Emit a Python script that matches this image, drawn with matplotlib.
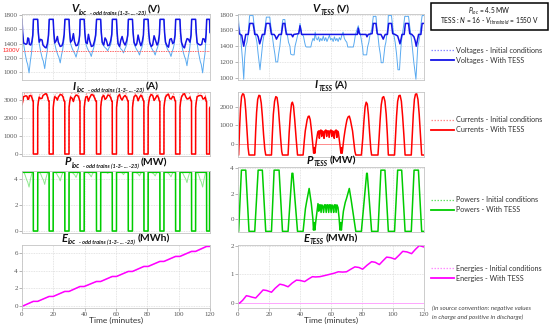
import matplotlib
matplotlib.use('Agg')
import matplotlib.pyplot as plt
from matplotlib.lines import Line2D
from matplotlib.patches import Rectangle

plt.rcParams['font.family'] = 'Liberation Serif'
plt.rcParams['mathtext.fontset'] = 'custom'
plt.rcParams['mathtext.rm'] = 'Lato'
plt.rcParams['mathtext.it'] = 'Lato:italic'
plt.rcParams['mathtext.bf'] = 'Lato:bold'

# ---------------- data (time in minutes) ----------------
vloc_tess = [(0,1740),(0.4,1560),(1.0,1410),(2.5,1390),(3.2,1400),(3.7,1480),(4.3,1470),(4.7,1390),(5.6,1380),(6.3,1430),(6.9,1520),(7.3,1740),
 (10.0,1740),(10.4,1560),(11.0,1420),(11.8,1460),(12.8,1450),(13.4,1380),(14.6,1350),(15.4,1340),(16.2,1400),(16.9,1520),(17.4,1740),
 (19.9,1740),(20.3,1560),(20.9,1410),(21.8,1440),(22.6,1500),(23.2,1420),(24.4,1360),(25.5,1370),(26.2,1420),(26.9,1530),(27.4,1740),
 (30.0,1740),(30.4,1560),(31.0,1420),(32.0,1450),(32.8,1540),(33.5,1430),(34.5,1370),(35.5,1380),(36.3,1440),(36.8,1520),(37.1,1740),
 (39.7,1740),(40.1,1560),(40.7,1420),(41.6,1400),(42.4,1530),(43.2,1440),(44.3,1360),(45.4,1370),(46.2,1430),(47.0,1520),(47.6,1740),
 (50.2,1740),(50.6,1560),(51.2,1420),(52.2,1380),(53.0,1480),(53.8,1450),(54.8,1370),(55.8,1380),(56.6,1440),(57.3,1530),(57.7,1740),
 (60.3,1740),(60.7,1560),(61.3,1400),(62.3,1360),(63.1,1450),(63.9,1500),(64.8,1420),(65.8,1380),(66.8,1440),(67.5,1520),(67.9,1740),
 (70.5,1740),(70.9,1560),(71.5,1420),(72.5,1370),(73.3,1400),(74.1,1520),(75.0,1430),(75.9,1370),(76.8,1430),(77.5,1520),(77.9,1740),
 (80.5,1740),(80.9,1560),(81.5,1420),(82.5,1360),(83.4,1380),(84.3,1510),(85.2,1450),(86.2,1380),(87.0,1420),(87.7,1530),(88.1,1740),
 (90.6,1740),(91.0,1560),(91.6,1420),(92.6,1370),(93.5,1350),(94.4,1460),(95.3,1470),(96.2,1400),(97.0,1420),(97.7,1520),(98.1,1740),
 (100.8,1740),(101.2,1560),(101.8,1420),(102.8,1360),(103.7,1340),(104.6,1420),(105.4,1470),(106.3,1460),(107.2,1420),(107.9,1520),(108.3,1740),
 (110.8,1740),(111.2,1560),(111.8,1410),(112.8,1390),(113.8,1380),(114.7,1390),(115.5,1470),(116.4,1460),(117.0,1420),(117.5,1530),(117.9,1740),
 (119.7,1740),(120,1560)]

vloc_init = [(0,1740),(0.4,1540),(1.0,1400),(2.0,1260),(3.0,1150),(3.6,1110),(4.5,990),(5.3,1150),(6.0,1260),(6.6,1400),(6.9,1500),(7.3,1740),
 (10.0,1740),(10.4,1540),(11.0,1400),(12.0,1280),(13.0,1190),(13.6,1155),(14.5,1050),(15.3,1190),(16.0,1280),(16.6,1400),(17.0,1500),(17.4,1740),
 (19.9,1740),(20.3,1540),(20.9,1400),(21.9,1305),(22.9,1240),(23.5,1210),(24.4,1130),(25.2,1240),(25.9,1305),(26.5,1400),(27.0,1500),(27.4,1740),
 (30.0,1740),(30.4,1540),(31.0,1400),(32.0,1335),(33.0,1285),(33.6,1265),(34.5,1210),(35.3,1285),(36.0,1335),(36.5,1400),(36.8,1500),(37.1,1740),
 (39.7,1740),(40.1,1540),(40.7,1400),(41.7,1335),(42.7,1290),(43.3,1275),(44.2,1220),(45.0,1290),(45.7,1335),(46.4,1400),(47.1,1500),(47.6,1740),
 (50.2,1740),(50.6,1540),(51.2,1400),(52.2,1365),(53.2,1340),(53.8,1330),(54.7,1300),(55.5,1340),(56.2,1365),(56.8,1400),(57.3,1500),(57.7,1740),
 (60.3,1740),(60.7,1540),(61.3,1400),(62.3,1355),(63.3,1320),(63.9,1310),(64.8,1270),(65.6,1320),(66.3,1355),(67.0,1400),(67.5,1500),(67.9,1740),
 (70.5,1740),(70.9,1540),(71.5,1400),(72.5,1345),(73.5,1305),(74.1,1290),(75.0,1240),(75.8,1305),(76.5,1345),(77.1,1400),(77.5,1500),(77.9,1740),
 (80.5,1740),(80.9,1540),(81.5,1400),(82.5,1345),(83.5,1305),(84.1,1290),(85.0,1240),(85.8,1305),(86.5,1345),(87.2,1400),(87.7,1500),(88.1,1740),
 (90.6,1740),(91.0,1540),(91.6,1400),(92.6,1335),(93.6,1290),(94.2,1275),(95.1,1220),(95.9,1290),(96.6,1335),(97.2,1400),(97.7,1500),(98.1,1740),
 (100.8,1740),(101.2,1540),(101.8,1400),(102.8,1290),(103.8,1215),(104.4,1185),(105.3,1090),(106.1,1215),(106.8,1290),(107.4,1400),(107.9,1500),(108.3,1740),
 (110.8,1740),(111.2,1540),(111.8,1400),(112.8,1260),(113.8,1150),(114.4,1110),(115.3,990),(116.1,1150),(116.8,1260),(117.2,1400),(117.5,1500),(117.9,1740),
 (119.7,1740),(120,1540)]

iloc_tess = [(0,2750),(0.4,2890),(1.0,3190),(2.5,3240),(3.2,3210),(3.7,3040),(4.3,3060),(4.7,3240),(5.6,3260),(6.3,3150),(6.9,2960),(7.2,2950),(7.25,0),
 (10.0,0),(10.05,2590),(10.4,2880),(11.0,3170),(11.8,3080),(12.8,3100),(13.4,3260),(14.6,3330),(15.4,3360),(16.2,3210),(16.9,2960),(17.3,2950),(17.35,0),
 (19.9,0),(19.95,2590),(20.3,2880),(20.9,3190),(21.8,3130),(22.6,3000),(23.2,3170),(24.4,3310),(25.5,3280),(26.2,3170),(26.9,2940),(27.3,2930),(27.35,0),
 (30.0,0),(30.05,2590),(30.4,2880),(31.0,3170),(32.0,3100),(32.8,2920),(33.5,3150),(34.5,3280),(35.5,3260),(36.3,3130),(36.8,2960),(37.0,2950),(37.05,0),
 (39.7,0),(39.75,2590),(40.1,2880),(40.7,3170),(41.6,3210),(42.4,2940),(43.2,3130),(44.3,3310),(45.4,3280),(46.2,3150),(47.0,2960),(47.5,2950),(47.55,0),
 (50.2,0),(50.25,2590),(50.6,2880),(51.2,3170),(52.2,3260),(53.0,3040),(53.8,3100),(54.8,3280),(55.8,3260),(56.6,3130),(57.3,2940),(57.6,2930),(57.65,0),
 (60.3,0),(60.35,2590),(60.7,2880),(61.3,3210),(62.3,3310),(63.1,3100),(63.9,3000),(64.8,3170),(65.8,3260),(66.8,3130),(67.5,2960),(67.8,2950),(67.85,0),
 (70.5,0),(70.55,2590),(70.9,2880),(71.5,3170),(72.5,3280),(73.3,3210),(74.1,2960),(75.0,3150),(75.9,3280),(76.8,3150),(77.5,2960),(77.8,2950),(77.85,0),
 (80.5,0),(80.55,2590),(80.9,2880),(81.5,3170),(82.5,3310),(83.4,3260),(84.3,2980),(85.2,3100),(86.2,3260),(87.0,3170),(87.7,2940),(88.0,2930),(88.05,0),
 (90.6,0),(90.65,2590),(91.0,2880),(91.6,3170),(92.6,3280),(93.5,3330),(94.4,3080),(95.3,3060),(96.2,3210),(97.0,3170),(97.7,2960),(98.0,2950),(98.05,0),
 (100.8,0),(100.85,2590),(101.2,2880),(101.8,3170),(102.8,3310),(103.7,3360),(104.6,3170),(105.4,3060),(106.3,3080),(107.2,3170),(107.9,2960),(108.2,2950),(108.25,0),
 (110.8,0),(110.85,2590),(111.2,2880),(111.8,3190),(112.8,3240),(113.8,3260),(114.7,3240),(115.5,3060),(116.4,3080),(117.0,3170),(117.5,2940),(117.8,2930),(117.85,0),
 (119.7,0),(119.75,2550),(120,2600)]

iloc_init = [(0,2750),(0.4,2920),(1.0,3210),(1.8,3400),(6.0,3400),(6.6,3214),(6.9,3000),(7.2,2950),(7.25,0),
 (10.0,0),(10.05,2590),(10.4,2920),(11.0,3210),(11.8,3400),(16.0,3400),(16.6,3214),(17.0,3000),(17.3,2950),(17.35,0),
 (19.9,0),(19.95,2590),(20.3,2920),(20.9,3210),(21.7,3400),(25.9,3400),(26.5,3214),(27.0,3000),(27.3,2950),(27.35,0),
 (30.0,0),(30.05,2590),(30.4,2920),(31.0,3210),(31.8,3400),(36.0,3400),(36.5,3214),(36.7,3000),(37.0,2950),(37.05,0),
 (39.7,0),(39.75,2590),(40.1,2920),(40.7,3210),(41.5,3400),(45.7,3400),(46.4,3214),(47.2,3000),(47.5,2950),(47.55,0),
 (50.2,0),(50.25,2590),(50.6,2920),(51.2,3210),(52.0,3400),(56.2,3400),(56.8,3214),(57.3,3000),(57.6,2950),(57.65,0),
 (60.3,0),(60.35,2590),(60.7,2920),(61.3,3210),(62.1,3400),(66.3,3400),(67.0,3214),(67.5,3000),(67.8,2950),(67.85,0),
 (70.5,0),(70.55,2590),(70.9,2920),(71.5,3210),(72.3,3400),(76.5,3400),(77.1,3214),(77.5,3000),(77.8,2950),(77.85,0),
 (80.5,0),(80.55,2590),(80.9,2920),(81.5,3210),(82.3,3400),(86.5,3400),(87.2,3214),(87.7,3000),(88.0,2950),(88.05,0),
 (90.6,0),(90.65,2590),(91.0,2920),(91.6,3210),(92.4,3400),(96.6,3400),(97.2,3214),(97.7,3000),(98.0,2950),(98.05,0),
 (100.8,0),(100.85,2590),(101.2,2920),(101.8,3210),(102.6,3400),(106.8,3400),(107.4,3214),(107.9,3000),(108.2,2950),(108.25,0),
 (110.8,0),(110.85,2590),(111.2,2920),(111.8,3210),(112.6,3400),(116.8,3400),(117.2,3214),(117.5,3000),(117.8,2950),(117.85,0),
 (119.7,0),(119.75,2550),(120,2600)]

ploc_tess = [(0,4.5),(7.2,4.5),(7.25,0),(10.0,0),(10.05,4.5),(17.3,4.5),(17.35,0),(19.9,0),(19.95,4.5),(27.3,4.5),(27.35,0),
 (30.0,0),(30.05,4.5),(37.0,4.5),(37.05,0),(39.7,0),(39.75,4.5),(47.5,4.5),(47.55,0),(50.2,0),(50.25,4.5),(57.6,4.5),(57.65,0),
 (60.3,0),(60.35,4.5),(67.8,4.5),(67.85,0),(70.5,0),(70.55,4.5),(77.8,4.5),(77.85,0),(80.5,0),(80.55,4.5),(88.0,4.5),(88.05,0),
 (90.6,0),(90.65,4.5),(98.0,4.5),(98.05,0),(100.8,0),(100.85,4.5),(108.2,4.5),(108.25,0),(110.8,0),(110.85,4.5),(117.8,4.5),(117.85,0),
 (119.7,0),(119.75,4.5),(120,4.5)]

ploc_init = [(0,4.5),(1.2,4.5),(2.0,4.28),(3.0,3.91),(3.6,3.77),(4.5,3.37),(5.3,3.91),(6.0,4.28),(6.6,4.5),(7.2,4.5),(7.25,0),
 (10.0,0),(10.05,4.5),(11.2,4.5),(12.0,4.35),(13.0,4.05),(13.6,3.93),(14.5,3.57),(15.3,4.05),(16.0,4.35),(16.6,4.5),(17.3,4.5),(17.35,0),
 (19.9,0),(19.95,4.5),(21.1,4.5),(21.9,4.44),(22.9,4.21),(23.5,4.12),(24.4,3.84),(25.2,4.21),(25.9,4.44),(26.5,4.5),(27.3,4.5),(27.35,0),
 (30.0,0),(30.05,4.5),(32.0,4.5),(33.0,4.37),(33.6,4.31),(34.5,4.11),(35.3,4.37),(36.0,4.5),(37.0,4.5),(37.05,0),
 (39.7,0),(39.75,4.5),(41.7,4.5),(42.7,4.39),(43.3,4.33),(44.2,4.15),(45.0,4.39),(45.7,4.5),(47.5,4.5),(47.55,0),
 (50.2,0),(50.25,4.5),(53.8,4.5),(54.7,4.42),(55.5,4.5),(57.6,4.5),(57.65,0),
 (60.3,0),(60.35,4.5),(62.3,4.5),(63.3,4.49),(63.9,4.45),(64.8,4.32),(65.6,4.49),(66.3,4.5),(67.8,4.5),(67.85,0),
 (70.5,0),(70.55,4.5),(72.5,4.5),(73.5,4.43),(74.1,4.38),(75.0,4.22),(75.8,4.43),(76.5,4.5),(77.8,4.5),(77.85,0),
 (80.5,0),(80.55,4.5),(82.5,4.5),(83.5,4.43),(84.1,4.38),(85.0,4.22),(85.8,4.43),(86.5,4.5),(88.0,4.5),(88.05,0),
 (90.6,0),(90.65,4.5),(92.6,4.5),(93.6,4.39),(94.2,4.33),(95.1,4.15),(95.9,4.39),(96.6,4.5),(98.0,4.5),(98.05,0),
 (100.8,0),(100.85,4.5),(102.0,4.5),(102.8,4.39),(103.8,4.13),(104.4,4.02),(105.3,3.71),(106.1,4.13),(106.8,4.39),(107.4,4.5),(108.2,4.5),(108.25,0),
 (110.8,0),(110.85,4.5),(112.0,4.5),(112.8,4.28),(113.8,3.91),(114.4,3.77),(115.3,3.37),(116.1,3.91),(116.8,4.28),(117.2,4.5),(117.8,4.5),(117.85,0),
 (119.7,0),(119.75,4.5),(120,4.5)]

eloc_tess = [(0,0),(7.2,0.56),(10.0,0.56),(17.3,1.11),(19.9,1.11),(27.3,1.67),(30.0,1.67),(37.0,2.22),(39.7,2.22),(47.5,2.78),(50.2,2.78),
 (57.6,3.34),(60.3,3.34),(67.8,3.9),(70.5,3.9),(77.8,4.46),(80.5,4.46),(88.0,5.02),(90.6,5.02),(98.0,5.58),(100.8,5.58),
 (108.2,6.14),(110.8,6.14),(117.8,6.7),(119.7,6.7),(120,6.72)]
eloc_init = [(0,0),(7.2,0.55),(10.0,0.55),(17.3,1.1),(19.9,1.1),(27.3,1.65),(30.0,1.65),(37.0,2.2),(39.7,2.2),(47.5,2.76),(50.2,2.76),
 (57.6,3.32),(60.3,3.32),(67.8,3.88),(70.5,3.88),(77.8,4.43),(80.5,4.43),(88.0,4.99),(90.6,4.99),(98.0,5.54),(100.8,5.54),
 (108.2,6.09),(110.8,6.09),(117.8,6.64),(119.7,6.64),(120,6.66)]

vtess_tess = [(0,1680),(0.8,1560),(1.5,1550),(2.4,1540),(3.0,1470),(3.7,1400),(4.4,1480),(5.0,1550),(6.6,1550),(7.6,1690),(9.7,1690),(10.5,1600),(10.8,1550),
 (12.2,1550),(13.0,1520),(14.0,1430),(15.0,1500),(15.7,1550),(17.2,1550),(18.2,1690),(20.5,1690),(21.3,1580),(21.6,1550),
 (23.3,1550),(24.0,1530),(24.8,1490),(25.6,1520),(26.5,1550),(28.0,1550),(29.0,1690),(30.2,1690),(30.8,1600),(31.2,1550),
 (34.5,1550),(35.3,1520),(36.0,1550),(39.2,1560),(40.0,1660),(40.6,1600),(41.0,1550),(77.0,1550),(77.6,1630),(78.3,1560),(78.8,1550),
 (82.6,1550),(83.2,1520),(84.0,1550),(86.5,1560),(87.3,1690),(89.0,1690),(89.8,1560),(90.5,1550),(92.2,1550),(93.0,1520),(93.7,1490),
 (94.5,1530),(95.0,1550),(96.4,1550),(97.2,1690),(99.0,1690),(99.8,1560),(101.3,1550),(103.0,1530),(103.8,1480),(104.5,1430),
 (105.3,1500),(105.8,1550),(107.2,1550),(108.0,1690),(110.0,1690),(110.8,1560),(112.2,1550),(113.5,1520),(114.3,1470),(115.0,1400),
 (115.8,1480),(116.5,1550),(118.0,1550),(118.8,1690),(120,1690)]

vtess_init = [(0,1800),(0.8,1640),(1.5,1550),(2.2,1400),(3.0,1200),(3.7,980),(4.3,1250),(5.0,1400),(5.8,1450),(6.5,1550),(7.5,1790),(9.7,1790),
 (10.5,1650),(11.2,1550),(12.2,1450),(13.0,1300),(14.2,1100),(15.2,1300),(16.0,1450),(16.8,1550),(17.8,1700),(18.3,1770),(20.5,1770),
 (21.3,1640),(22.0,1550),(23.0,1400),(23.8,1300),(24.4,1200),(25.6,1200),(26.2,1300),(27.0,1400),(27.8,1550),(28.6,1700),(29.0,1740),(30.2,1740),
 (31.0,1600),(31.8,1550),(32.6,1450),(33.5,1400),(34.0,1300),(35.0,1290),(36.2,1290),(36.8,1400),(37.8,1480),(38.6,1550),(39.5,1600),(40.0,1690),
 (40.6,1620),(41.2,1550),(42.2,1530),(43.0,1450),(43.6,1400),(44.2,1390),(47.0,1390),(47.6,1450),(48.4,1500),(49.2,1470),(49.8,1580),(50.4,1500),
 (51.2,1480),(52.0,1520),(52.6,1460),(53.4,1500),(54.2,1470),(55.0,1530),(55.8,1470),(56.6,1510),(57.4,1460),(58.2,1500),(59.0,1540),(59.8,1480),
 (60.6,1500),(61.4,1460),(62.2,1520),(63.0,1470),(63.8,1500),(64.6,1460),(65.4,1510),(66.2,1480),(67.0,1540),(67.8,1580),(68.6,1500),(69.4,1470),
 (70.2,1450),(70.8,1390),(74.4,1390),(75.0,1450),(75.8,1550),(76.6,1600),(77.6,1660),(78.2,1600),(79.0,1550),(79.8,1450),(80.4,1380),(80.8,1290),
 (83.0,1290),(83.6,1390),(84.4,1450),(85.2,1550),(86.2,1600),(86.8,1700),(87.3,1780),(89.0,1780),(89.6,1640),(90.2,1550),(91.0,1400),(91.8,1300),
 (92.4,1190),(93.6,1190),(94.2,1300),(94.8,1400),(95.4,1450),(96.0,1550),(96.6,1640),(97.0,1790),(99.0,1790),(99.8,1650),(100.5,1550),(101.4,1450),
 (102.3,1300),(103.2,1100),(104.2,1100),(104.8,1300),(105.4,1450),(106.0,1550),(106.8,1650),(107.6,1780),(110.0,1780),(110.8,1650),(111.5,1550),
 (112.4,1400),(113.4,1200),(114.8,980),(115.4,1200),(116.0,1400),(116.6,1450),(117.4,1550),(118.2,1700),(118.8,1790),(120,1790)]

itess_tess = [(0,-600),(0.4,-600),(1.0,800),(1.6,1900),(2.3,2550),(3.0,2700),(3.7,2680),(4.4,2400),(5.0,1800),(5.8,700),(6.5,-200),(7.1,-600),
 (10.8,-600),(11.4,700),(12.0,1700),(12.7,2400),(13.5,2620),(14.2,2600),(15.0,2200),(15.7,1500),(16.5,500),(17.3,-300),(17.9,-600),
 (21.6,-600),(22.2,600),(22.8,1600),(23.6,2300),(24.4,2550),(25.2,2500),(26.0,2000),(26.7,1200),(27.5,300),(28.2,-400),(28.7,-600),
 (32.3,-600),(33.0,600),(33.8,1600),(34.5,2150),(35.1,2250),(35.8,2050),(36.6,1300),(37.5,300),(38.4,-600),
 (42.0,-600),(42.8,200),(43.4,700),(44.0,1000),(44.6,1300),(45.3,1480),(45.9,1500),(46.6,1300),(47.3,800),(47.9,300),(48.5,-200),(48.8,-500),
 (49.3,-200),(49.6,-500),(50.0,-200),(50.8,300),(51.5,650),(52.1,700),(52.5,300),(52.9,700),(53.5,750),(54.0,400),(54.4,700),(55.0,650),
 (55.5,300),(56.0,700),(56.7,750),(57.2,400),(57.6,700),(58.3,700),(58.8,350),(59.3,700),(60.0,750),(60.5,400),(61.0,700),(61.6,650),
 (62.1,300),(62.6,700),(63.3,750),(63.8,350),(64.2,700),(64.8,600),(65.4,200),(66.0,-200),(66.4,-500),(66.8,-200),(67.2,-500),(67.6,-200),
 (68.3,300),(69.0,700),(69.6,1000),(70.3,1300),(71.0,1450),(71.8,1500),(72.5,1300),(73.2,1000),(73.9,700),(74.6,200),(75.4,-400),(76.0,-600),
 (79.6,-600),(80.5,300),(81.3,1300),(82.0,2000),(82.7,2250),(83.4,2150),(84.1,1600),(84.9,600),(85.7,-300),(86.2,-600),
 (90.3,-600),(91.0,300),(91.7,1300),(92.4,2100),(93.2,2500),(94.0,2550),(94.8,2300),(95.6,1600),(96.3,600),(97.0,-600),
 (101.0,-600),(101.6,400),(102.3,1500),(103.0,2300),(103.8,2600),(104.6,2620),(105.4,2300),(106.2,1500),(107.0,500),(107.8,-600),
 (111.8,-600),(112.4,400),(113.1,1600),(113.8,2400),(114.5,2680),(115.3,2700),(116.1,2400),(116.9,1600),(117.7,500),(118.5,-600),(120,-600)]

ptess_tess = [(0,-1.0),(0.4,-1.0),(2.2,3.85),(5.0,3.85),(7.1,-1.0),(10.8,-1.0),(13.0,3.85),(15.7,3.85),(17.9,-1.0),(21.6,-1.0),(23.3,3.85),
 (26.5,3.85),(28.7,-1.0),(32.3,-1.0),(34.8,3.6),(35.4,3.6),(38.4,-1.0),(42.0,-1.0),(43.5,0.8),(44.2,1.3),(45.9,2.4),(47.3,1.2),(48.3,0.0),
 (48.7,-0.9),(49.2,-0.3),(49.6,-0.9),(50.1,-0.3),(51.0,0.6),(51.6,1.2),(52.1,0.6),(52.6,1.1),(53.1,1.1),(53.6,0.5),(54.1,1.1),(54.7,1.0),
 (55.2,0.5),(55.8,1.1),(56.4,1.1),(56.9,0.5),(57.4,1.1),(58.0,1.1),(58.5,0.5),(59.0,1.1),(59.6,1.1),(60.1,0.5),(60.6,1.1),(61.2,1.0),
 (61.7,0.5),(62.2,1.1),(62.8,1.1),(63.3,0.5),(63.8,1.1),(64.5,0.9),(65.2,0.1),(65.8,-0.9),(66.3,-0.3),(66.7,-0.9),(67.2,-0.3),(68.0,0.6),
 (69.2,1.3),(70.0,1.6),(71.8,2.4),(73.0,1.5),(74.2,0.5),(75.5,-0.6),(76.0,-1.0),(79.6,-1.0),(83.0,3.6),(83.4,3.6),(86.2,-1.0),(90.3,-1.0),
 (92.2,3.85),(94.8,3.85),(97.0,-1.0),(101.0,-1.0),(103.0,3.85),(105.6,3.85),(107.8,-1.0),(111.8,-1.0),(113.6,3.85),(116.4,3.85),(118.5,-1.0),(120,-1.0)]

etess_tess = [(0,0),(1.0,0.0),(3.0,0.1),(5.4,0.26),(7.1,0.24),(9.0,0.21),(11.4,0.18),(13.5,0.3),(16.2,0.46),(18.5,0.44),(21.6,0.38),(24.0,0.52),
 (27.0,0.66),(29.5,0.63),(32.3,0.57),(35.0,0.7),(37.7,0.8),(40.0,0.79),(43.0,0.75),(45.5,0.84),(48.0,0.92),(50.0,0.91),(52.8,0.92),(56.0,0.96),
 (59.0,1.0),(62.0,1.04),(64.7,1.09),(67.5,1.08),(70.0,1.09),(72.8,1.18),(75.4,1.26),(78.0,1.24),(80.4,1.18),(83.3,1.32),(86.2,1.44),(88.5,1.42),
 (91.2,1.34),(93.5,1.47),(95.9,1.6),(98.5,1.58),(101.3,1.53),(103.8,1.66),(106.3,1.8),(109.0,1.78),(112.0,1.72),(114.5,1.87),(117.0,2.0),(120,1.95)]

tess_init_zero = [(0, 0), (120, 0)]

legend_groups = ["Voltages", "Currents", "Powers", "Energies"]

# ---------------- colours ----------------
C = {'V': ('#1414e6', '#5aaaf0', '#8c8cff'),
     'I': ('#ff0000', '#ff8c8c', '#ff8c8c'),
     'P': ('#00cc00', '#8de88d', '#66e066'),
     'E': ('#ff00ff', '#ffa6ff', '#ff8cff')}

W, H = 550, 330
fig = plt.figure(figsize=(5.5, 3.3), dpi=100)

def rect(x0, y0, x1, y1):
    return [x0 / W, 1 - y1 / H, (x1 - x0) / W, (y1 - y0) / H]

def xy(pairs):
    return [p[0] for p in pairs], [p[1] for p in pairs]

def style(ax, ylim, yticks, bottom=False):
    ax.set_xlim(0, 120)
    ax.set_ylim(*ylim)
    ax.set_xticks(range(0, 121, 20))
    ax.set_yticks(yticks)
    ax.grid(True, color='#dcdcdc', ls=(0, (1, 1)), lw=0.6)
    ax.set_axisbelow(True)
    for s in ax.spines.values():
        s.set_color('#c4c4c4'); s.set_linewidth(0.6)
    ax.tick_params(length=2, width=0.5, color='#999999', labelsize=5, labelcolor='#555555', pad=1)
    if not bottom:
        ax.tick_params(axis='x', labelbottom=False, length=0)

LX0, LX1 = 22, 210
RX0, RX1 = 238, 424
rows_l = [(14, 80), (92, 156), (171, 233), (245, 308)]
rows_r = [(14, 80), (92, 156.5), (167, 232), (245, 307.5)]

axes = {}
for name, (x0, x1), rows in [('L', (LX0, LX1), rows_l), ('R', (RX0, RX1), rows_r)]:
    for i, (y0, y1) in enumerate(rows):
        axes[(name, i)] = fig.add_axes(rect(x0, y0, x1, y1))

lw_t, lw_i = 1.1, 0.7
# V loc
ax = axes[('L', 0)]
ax.plot(*xy(vloc_init), color=C['V'][1], lw=lw_i)
ax.plot(*xy(vloc_tess), color=C['V'][0], lw=lw_t)
ax.axhline(1300, color='#ff6a6a', lw=0.7, ls=(0, (1.5, 1)))
style(ax, (890, 1815), [1000, 1200, 1400, 1600, 1800])
# V tess
ax = axes[('R', 0)]
ax.plot(*xy(vtess_init), color=C['V'][1], lw=lw_i)
ax.plot(*xy(vtess_tess), color=C['V'][0], lw=lw_t)
style(ax, (970, 1810), [1000, 1200, 1400, 1600, 1800])
# I loc
ax = axes[('L', 1)]
ax.plot(*xy(iloc_init), color=C['I'][1], lw=lw_i, ls=(0, (2, 1.5)))
ax.plot(*xy(iloc_tess), color=C['I'][0], lw=lw_t)
style(ax, (-110, 3450), [0, 1000, 2000, 3000])
# I tess
ax = axes[('R', 1)]
ax.plot(*xy(tess_init_zero), color=C['I'][1], lw=lw_i)
ax.plot(*xy(itess_tess), color=C['I'][0], lw=lw_t)
style(ax, (-680, 2800), [0, 1000, 2000])
# P loc
ax = axes[('L', 2)]
ax.plot(*xy(ploc_init), color=C['P'][1], lw=lw_i)
ax.plot(*xy(ploc_tess), color=C['P'][0], lw=lw_t)
style(ax, (-0.15, 4.6), [0, 2, 4])
# P tess
ax = axes[('R', 2)]
ax.plot(*xy(tess_init_zero), color=C['P'][1], lw=lw_i)
ax.plot(*xy(ptess_tess), color=C['P'][0], lw=lw_t)
style(ax, (-1.05, 4.1), [0, 2, 4])
# E loc
ax = axes[('L', 3)]
ax.plot(*xy(eloc_init), color=C['E'][1], lw=lw_i)
ax.plot(*xy(eloc_tess), color=C['E'][0], lw=lw_t)
style(ax, (-0.18, 6.85), [0, 2, 4, 6], bottom=True)
# E tess
ax = axes[('R', 3)]
ax.plot(*xy(tess_init_zero), color=C['E'][1], lw=lw_i)
ax.plot(*xy(etess_tess), color=C['E'][0], lw=lw_t)
style(ax, (-0.15, 2.02), [0, 1, 2], bottom=True)

for k in [('L', 3), ('R', 3)]:
    axes[k].set_xlabel('Time (minutes)', family='Lato', fontsize=6, color='#333333', labelpad=0)

# 1300V label
fig.text(20.5 / W, 1 - 52.5 / H, '1300V', color='#ff2020', fontsize=4.3, ha='right', family='Liberation Sans')

# ---------------- titles ----------------
renderer = fig.canvas.get_renderer()
def make_title(cx, base, parts):
    objs = []
    for s, size, weight, style_, dy, gap in parts:
        t = fig.text(0, 0, s, fontsize=size, fontweight=weight, fontstyle=style_,
                     family='Lato', va='baseline', ha='left', color='#111111')
        objs.append((t, dy, gap))
    widths = [t.get_window_extent(renderer).width + g for t, _, g in objs]
    x = cx - sum(widths) / 2
    for (t, dy, g), w in zip(objs, widths):
        x += g
        t.set_position((x / W, 1 - (base + dy) / H))
        x += w - g

odd = '- odd trains (1-3- ... -23)'
lc, rc = (LX0 + LX1) / 2, (RX0 + RX1) / 2
for sym, unit, base in [('V', '(V)', 12.5), ('I', '(A)', 89.5), ('P', '(MW)', 165.5), ('E', '(MWh)', 241.5)]:
    make_title(lc, base, [(sym, 8, 'bold', 'italic', 0, 0), ('loc', 4.8, 'bold', 'italic', 2.3, 0.3),
                          (odd, 4.0, 'bold', 'italic', 2.3, 3.0), (unit, 7.5, 'bold', 'normal', 0, 2.5)])
for sym, unit, base, in [('V', '(V)', 12.5), ('I', '(A)', 88.5), ('P', '(MW)', 163.5), ('E', '(MWh)', 241.5)]:
    make_title(rc, base, [(sym, 8, 'bold', 'italic', 0, 0), ('TESS', 4.8, 'bold', 'italic', 2.3, 0.3),
                          (unit, 7.5, 'bold', 'normal', 0, 2.0)])

# ---------------- info box ----------------
fig.patches.append(Rectangle((431 / W, 1 - 30 / H), 117 / W, 27 / H, transform=fig.transFigure,
                             fill=False, ec='black', lw=1.1))
fig.text(489 / W, 1 - 13.5 / H, r'$\mathit{P}_{\mathit{loc}}$ = 4.5 MW', ha='center', va='baseline',
         fontsize=4.8, family='Lato', color='#111111')
fig.text(489 / W, 1 - 24 / H, r'TESS : $\mathit{N}$ = 16 - $\mathit{V}_{\mathit{threshold}}$ = 1550 V',
         ha='center', va='baseline', fontsize=4.8, family='Lato', color='#111111')

# ---------------- legends ----------------
for (grp, key), y in zip(zip(legend_groups, ['V', 'I', 'P', 'E']), [50, 120, 200, 268]):
    dark, light, leg = C[key]
    fig.add_artist(Line2D([431 / W, 454 / W], [1 - y / H] * 2, color=leg, lw=0.9, ls=(0, (1.2, 1.2))))
    fig.add_artist(Line2D([431 / W, 454 / W], [1 - (y + 10) / H] * 2, color=dark, lw=1.3))
    fig.text(456 / W, 1 - y / H, grp + ' - Initial conditions', va='center', fontsize=5.2, family='Lato', color='#333333')
    fig.text(456 / W, 1 - (y + 10) / H, grp + ' - With TESS', va='center', fontsize=5.2, family='Lato', color='#333333')

fig.text(432 / W, 1 - 308 / H, '(in source convention: negative values', va='center', fontsize=4.5,
         family='Lato', style='italic', color='#444444')
fig.text(432 / W, 1 - 317.5 / H, 'in charge and positive in discharge)', va='center', fontsize=4.5,
         family='Lato', style='italic', color='#444444')

fig.savefig('out.png', dpi=100)
